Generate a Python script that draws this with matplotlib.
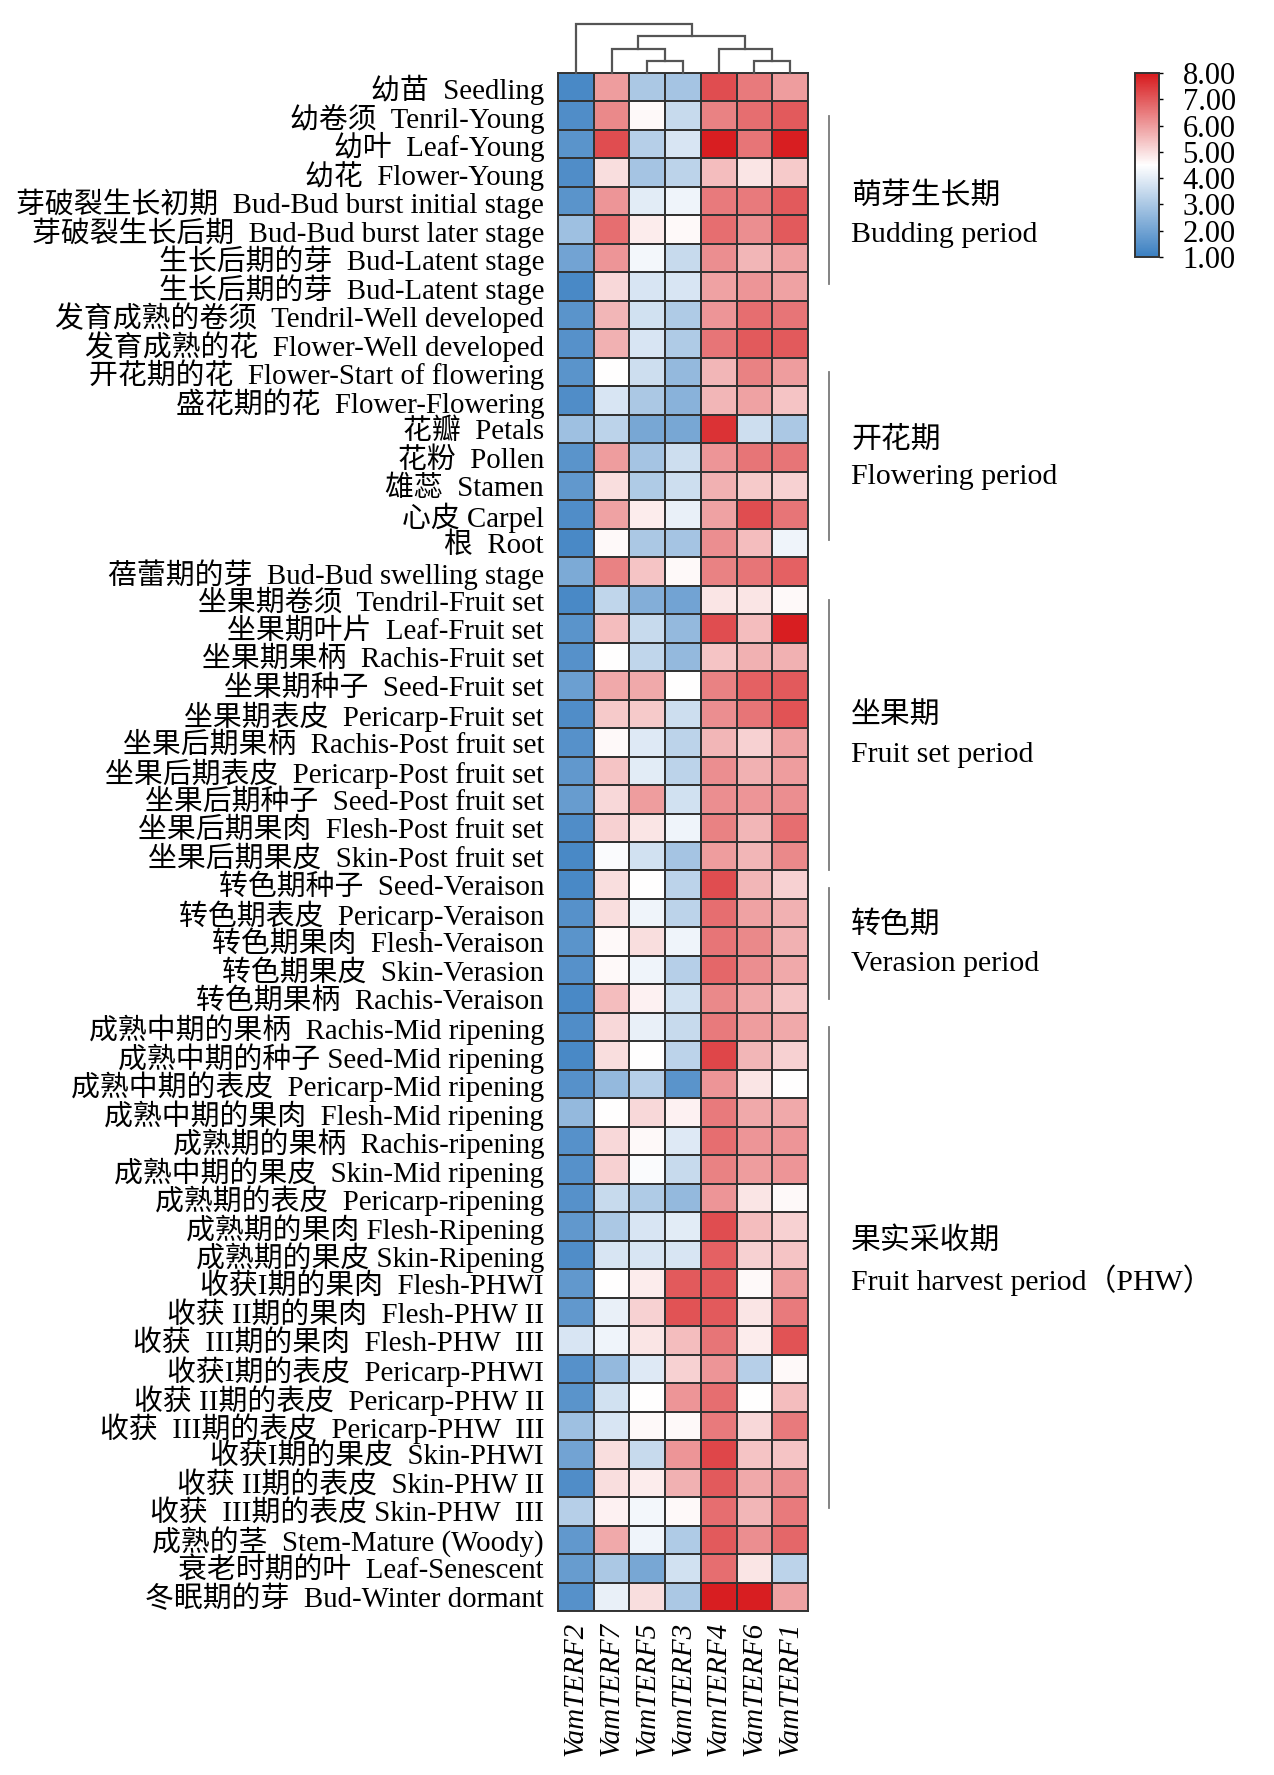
import numpy as np
import matplotlib
matplotlib.use('Agg')
import matplotlib.pyplot as plt
from matplotlib.colors import LinearSegmentedColormap, Normalize
import matplotlib.transforms as mtransforms

plt.rcParams['font.family'] = ['Liberation Serif', 'Noto Sans CJK SC', 'DejaVu Sans']

genes = ['VamTERF2', 'VamTERF7', 'VamTERF5', 'VamTERF3', 'VamTERF4', 'VamTERF6', 'VamTERF1']

samples = [
    "幼苗  Seedling", "幼卷须  Tenril-Young", "幼叶  Leaf-Young", "幼花  Flower-Young",
    "芽破裂生长初期  Bud-Bud burst initial stage", "芽破裂生长后期  Bud-Bud burst later stage",
    "生长后期的芽  Bud-Latent stage", "生长后期的芽  Bud-Latent stage",
    "发育成熟的卷须  Tendril-Well developed", "发育成熟的花  Flower-Well developed",
    "开花期的花  Flower-Start of flowering", "盛花期的花  Flower-Flowering",
    "花瓣  Petals", "花粉  Pollen", "雄蕊  Stamen", "心皮 Carpel", "根  Root",
    "蓓蕾期的芽  Bud-Bud swelling stage", "坐果期卷须  Tendril-Fruit set",
    "坐果期叶片  Leaf-Fruit set", "坐果期果柄  Rachis-Fruit set", "坐果期种子  Seed-Fruit set",
    "坐果期表皮  Pericarp-Fruit set", "坐果后期果柄  Rachis-Post fruit set",
    "坐果后期表皮  Pericarp-Post fruit set", "坐果后期种子  Seed-Post fruit set",
    "坐果后期果肉  Flesh-Post fruit set", "坐果后期果皮  Skin-Post fruit set",
    "转色期种子  Seed-Veraison", "转色期表皮  Pericarp-Veraison", "转色期果肉  Flesh-Veraison",
    "转色期果皮  Skin-Verasion", "转色期果柄  Rachis-Veraison",
    "成熟中期的果柄  Rachis-Mid ripening", "成熟中期的种子 Seed-Mid ripening",
    "成熟中期的表皮  Pericarp-Mid ripening", "成熟中期的果肉  Flesh-Mid ripening",
    "成熟期的果柄  Rachis-ripening", "成熟中期的果皮  Skin-Mid ripening",
    "成熟期的表皮  Pericarp-ripening", "成熟期的果肉 Flesh-Ripening", "成熟期的果皮 Skin-Ripening",
    "收获I期的果肉  Flesh-PHWI", "收获 II期的果肉  Flesh-PHW II", "收获  III期的果肉  Flesh-PHW  III",
    "收获I期的表皮  Pericarp-PHWI", "收获 II期的表皮  Pericarp-PHW II",
    "收获  III期的表皮  Pericarp-PHW  III", "收获I期的果皮  Skin-PHWI",
    "收获 II期的表皮  Skin-PHW II", "收获  III期的表皮 Skin-PHW  III",
    "成熟的茎  Stem-Mature (Woody)", "衰老时期的叶  Leaf-Senescent", "冬眠期的芽  Bud-Winter dormant",
]

terf2 = [1.3, 1.4, 1.6, 1.4, 1.6, 2.8, 2.0, 1.3, 1.6, 1.5,
         1.6, 1.4, 2.8, 1.6, 1.7, 1.4, 1.3, 2.2, 1.3, 1.6,
         1.5, 1.9, 1.4, 1.5, 1.7, 1.8, 1.4, 1.3, 1.3, 1.5,
         1.6, 1.5, 1.3, 1.4, 1.3, 1.5, 2.6, 1.5, 1.5, 1.5,
         1.7, 1.4, 1.7, 1.7, 3.8, 1.5, 1.6, 2.8, 2.0, 1.4,
         3.2, 1.7, 1.8, 1.5]
terf7 = [6.0, 6.3, 7.2, 5.0, 6.1, 6.7, 6.1, 5.1, 5.6, 5.7,
         4.5, 3.8, 3.3, 6.0, 5.0, 5.9, 4.6, 6.4, 3.4, 5.5,
         4.5, 5.8, 5.3, 4.6, 5.4, 5.1, 5.2, 4.4, 5.0, 5.0,
         4.6, 4.6, 5.5, 5.1, 5.0, 2.6, 4.5, 5.1, 5.2, 3.5,
         3.0, 3.8, 4.5, 4.1, 4.2, 2.6, 3.7, 3.8, 5.0, 5.0,
         4.7, 5.8, 3.0, 4.1]
terf5 = [3.0, 4.6, 3.2, 2.9, 4.0, 4.8, 4.3, 3.8, 3.7, 3.8,
         3.6, 3.0, 2.1, 2.9, 3.1, 4.8, 3.0, 5.4, 2.3, 3.5,
         3.4, 5.8, 5.3, 3.9, 4.0, 6.0, 4.9, 3.7, 4.5, 4.2,
         5.0, 4.2, 4.7, 4.1, 4.5, 3.2, 5.1, 4.6, 4.4, 3.1,
         3.8, 3.8, 4.8, 5.2, 4.9, 3.9, 4.5, 4.6, 3.5, 4.8,
         4.3, 4.2, 2.1, 5.0]
terf3 = [2.9, 3.5, 3.8, 3.3, 4.2, 4.6, 3.5, 3.8, 3.1, 3.1,
         2.6, 2.4, 2.1, 3.6, 3.6, 4.1, 2.9, 4.6, 2.0, 2.6,
         2.6, 4.5, 3.6, 3.3, 3.3, 3.7, 4.2, 2.9, 3.3, 3.3,
         4.2, 3.2, 3.7, 3.5, 3.3, 1.6, 4.7, 3.9, 3.5, 2.6,
         4.0, 3.8, 7.0, 7.1, 5.5, 5.2, 6.1, 4.6, 6.1, 5.7,
         4.6, 3.1, 3.7, 3.0]
terf4 = [7.2, 6.4, 7.9, 5.5, 6.5, 6.7, 6.2, 5.9, 6.1, 6.6,
         5.6, 5.6, 7.6, 6.1, 5.7, 5.9, 6.2, 6.4, 4.9, 7.2,
         5.4, 6.4, 6.2, 5.6, 6.2, 6.2, 6.4, 6.0, 7.2, 6.7,
         6.6, 6.8, 6.3, 6.5, 7.3, 6.1, 6.5, 6.7, 6.4, 6.1,
         7.2, 6.9, 7.0, 7.0, 6.6, 6.1, 6.7, 6.5, 7.3, 7.0,
         6.7, 7.0, 6.7, 7.9]
terf6 = [6.5, 6.7, 6.6, 4.9, 6.5, 6.2, 5.6, 6.1, 6.7, 7.0,
         6.4, 5.9, 3.6, 6.6, 5.3, 7.2, 5.5, 6.6, 4.9, 5.5,
         5.7, 6.9, 6.6, 5.2, 5.7, 6.1, 5.6, 5.6, 5.6, 5.9,
         6.3, 6.2, 5.8, 6.0, 5.6, 4.9, 5.8, 6.1, 6.0, 4.9,
         5.5, 5.2, 4.6, 4.9, 4.8, 3.2, 4.5, 5.1, 5.4, 5.8,
         5.6, 6.2, 4.9, 7.9]
terf1 = [6.0, 7.0, 7.9, 5.3, 7.0, 7.0, 5.9, 5.9, 6.6, 7.0,
         6.0, 5.4, 3.0, 6.6, 5.2, 6.6, 4.2, 6.9, 4.6, 7.9,
         5.7, 7.0, 7.1, 5.9, 6.0, 6.2, 6.7, 6.3, 5.2, 5.7,
         5.7, 5.8, 5.4, 5.8, 5.2, 4.5, 5.8, 6.1, 6.1, 4.6,
         5.2, 5.4, 6.0, 6.5, 7.1, 4.6, 5.5, 6.5, 5.4, 6.2,
         6.5, 6.8, 3.3, 5.9]

# column dendrogram (scipy-style linkage over displayed leaf order): [left, right, height]
linkage = [[2, 3, 1.0], [5, 6, 1.0], [1, 7, 2.0], [4, 8, 2.0], [9, 10, 3.0], [0, 11, 4.0]]

# period annotations
group_spans = [(1.5, 7.4), (10.5, 16.4), (18.5, 28.0), (28.6, 32.5), (33.5, 50.4)]
group_cn = ["萌芽生长期", "开花期", "坐果期", "转色期", "果实采收期"]
group_en = ["Budding period", "Flowering period", "Fruit set period", "Verasion period",
            "Fruit harvest period（PHW）"]
group_cn_row = [4.3, 12.85, 22.55, 29.9, 41.0]
group_en_row = [5.7, 14.2, 23.95, 31.3, 42.4]

cbar_ticks = [1, 2, 3, 4, 5, 6, 7, 8]

data = np.array([terf2, terf7, terf5, terf3, terf4, terf6, terf1]).T
nrow, ncol = data.shape

W, H = 1274, 1775
fig = plt.figure(figsize=(W / 100, H / 100), dpi=100)

cmap = LinearSegmentedColormap.from_list('bwr_c', ['#3A7FC1', '#FFFFFF', '#D7191C'])
norm = Normalize(vmin=1, vmax=8)

hx0, hx1, hy0, hy1 = 558, 808, 73, 1611
ax = fig.add_axes([hx0 / W, 1 - hy1 / H, (hx1 - hx0) / W, (hy1 - hy0) / H])
mesh = ax.pcolormesh(np.arange(ncol + 1), np.arange(nrow + 1), data, cmap=cmap, norm=norm,
                     edgecolors='#333333', linewidth=1.4)
ax.set_xlim(0, ncol)
ax.set_ylim(nrow, 0)
ax.set_yticks(np.arange(nrow) + 0.5)
ax.set_yticklabels(samples, fontsize=20.8,
                   family=['Liberation Serif', 'Noto Sans CJK SC'])
ax.set_xticks(np.arange(ncol) + 0.5)
ax.set_xticklabels(genes, rotation=90, fontsize=21, style='italic', va='top',
                   family=['Liberation Serif'])
ax.tick_params(axis='both', length=0)
ax.tick_params(axis='y', pad=10)
ax.tick_params(axis='x', pad=8)
for s in ax.spines.values():
    s.set_linewidth(1.4)
    s.set_color('#333333')

# dendrogram
dy_top = 20
dax = fig.add_axes([hx0 / W, 1 - hy0 / H, (hx1 - hx0) / W, (hy0 - dy_top) / H])
dax.set_xlim(0, ncol)
dax.set_ylim(0, (hy0 - dy_top) / 12.25)
dax.axis('off')
node_x = {i: i + 0.5 for i in range(ncol)}
node_h = {i: 0.0 for i in range(ncol)}
for k, (a, b, h) in enumerate(linkage):
    xa, xb = node_x[a], node_x[b]
    dax.plot([xa, xa, xb, xb], [node_h[a], h, h, node_h[b]], color='#555555', lw=1.6,
             solid_joinstyle='miter', clip_on=False)
    nid = ncol + k
    node_x[nid] = (xa + xb) / 2
    node_h[nid] = h

# period annotations
trans = mtransforms.blended_transform_factory(ax.transAxes, ax.transData)
line_x = (829 - hx0) / (hx1 - hx0)
text_x = (851 - hx0) / (hx1 - hx0)
for (r0, r1), cn, en, rc, re in zip(group_spans, group_cn, group_en, group_cn_row, group_en_row):
    ax.plot([line_x, line_x], [r0, r1], transform=trans, color='#7a7a7a', lw=1.3, clip_on=False)
    ax.text(text_x, rc, cn, transform=trans, fontsize=21.5, va='center', ha='left',
            family=['Noto Sans CJK SC'])
    ax.text(text_x, re, en, transform=trans, fontsize=21.5, va='center', ha='left',
            family=['Liberation Serif', 'Noto Sans CJK SC'])

# colorbar
cx0, cx1, cy0, cy1 = 1135, 1159, 73, 257
cax = fig.add_axes([cx0 / W, 1 - cy1 / H, (cx1 - cx0) / W, (cy1 - cy0) / H])
cb = fig.colorbar(mesh, cax=cax, ticks=cbar_ticks)
cb.ax.set_yticklabels(['%.2f' % t for t in cbar_ticks], fontsize=22,
                      family=['Liberation Serif'])
cb.ax.tick_params(direction='out', length=3, width=1, pad=14)
cb.outline.set_linewidth(1.4)
cb.outline.set_edgecolor('#333333')

fig.savefig('out.png', dpi=100, facecolor='white')
